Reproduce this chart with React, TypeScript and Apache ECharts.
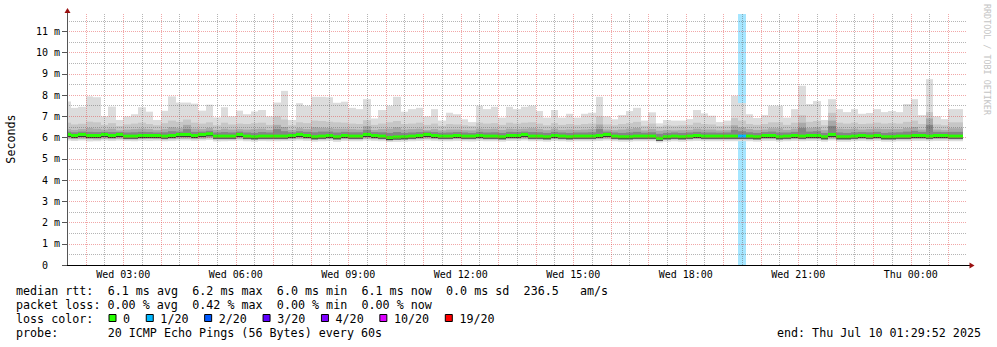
import React, { useEffect, useRef } from "react";
import * as echarts from "echarts";

const FONT = "'DejaVu Sans Mono', monospace";

// time is expressed in hours since Wed 00:00
const BAR_START_HOUR = 1.4;
const BAR_STEP_HOURS = 0.2;
const X_MIN = 1.5;
const X_MAX = 25.5;
const Y_MAX = 11.82;

const xTickHours = [3, 6, 9, 12, 15, 18, 21, 24];
const xTickLabels = ["Wed 03:00", "Wed 06:00", "Wed 09:00", "Wed 12:00", "Wed 15:00", "Wed 18:00", "Wed 21:00", "Thu 00:00"];
const yTickValues = [0, 1, 2, 3, 4, 5, 6, 7, 8, 9, 10, 11];
const yTickLabels = ["0\u00a0\u00a0", "1 m", "2 m", "3 m", "4 m", "5 m", "6 m", "7 m", "8 m", "9 m", "10 m", "11 m"];

// per 12-minute bar, ms
const maxV = [
  7.70, 7.40, 7.45, 7.94, 7.90, 7.00, 7.46, 6.83, 7.00, 7.10,
  7.43, 7.22, 6.83, 7.26, 7.94, 7.65, 7.65, 7.60, 7.27, 7.55,
  6.95, 7.43, 7.00, 7.27, 7.10, 7.23, 7.30, 7.00, 7.65, 8.20,
  6.83, 7.62, 7.50, 7.92, 7.92, 7.90, 7.64, 7.69, 7.40, 7.34,
  7.81, 6.90, 7.30, 7.50, 7.92, 7.22, 7.34, 7.40, 7.00, 7.34,
  6.80, 7.17, 7.10, 6.86, 6.73, 7.50, 7.34, 7.45, 6.94, 7.45,
  7.34, 7.45, 7.50, 7.25, 6.94, 7.30, 6.94, 7.12, 6.94, 7.12,
  7.17, 7.92, 7.00, 6.86, 7.06, 7.25, 7.40, 6.80, 7.19, 6.67,
  6.83, 6.80, 6.80, 6.87, 7.30, 7.14, 7.03, 6.73, 6.80, 7.97,
  7.63, 7.10, 6.92, 7.06, 7.50, 7.50, 6.94, 7.34, 8.44, 7.58,
  7.72, 6.83, 7.81, 7.34, 7.20, 7.34, 7.12, 7.16, 7.34, 7.20,
  7.25, 7.20, 7.58, 7.81, 7.06, 8.75, 7.00, 6.87, 7.34, 7.34,
];
const p90V = [
  6.70, 6.62, 6.65, 6.75, 6.72, 6.60, 6.68, 6.55, 6.62, 6.66,
  6.70, 6.64, 6.58, 6.68, 6.80, 6.74, 6.85, 6.70, 6.66, 6.72,
  6.58, 6.70, 6.62, 6.66, 6.64, 6.68, 6.70, 6.60, 7.00, 6.85,
  6.58, 6.72, 6.68, 6.80, 6.78, 6.75, 6.72, 6.70, 6.66, 6.64,
  6.82, 6.60, 6.66, 6.72, 6.78, 6.64, 6.66, 6.70, 6.60, 6.66,
  6.56, 6.64, 6.62, 6.58, 6.55, 6.70, 6.66, 6.68, 6.60, 6.70,
  6.66, 6.70, 6.72, 6.66, 6.58, 6.68, 6.60, 6.64, 6.60, 6.64,
  6.66, 7.00, 6.62, 6.58, 6.64, 6.68, 6.74, 6.56, 6.66, 6.52,
  6.58, 6.56, 6.58, 6.60, 6.70, 6.64, 6.62, 6.55, 6.58, 6.92,
  6.80, 6.64, 6.60, 6.64, 6.72, 6.72, 6.60, 6.70, 7.05, 6.74,
  6.78, 6.58, 7.17, 6.70, 6.66, 6.70, 6.64, 6.66, 6.70, 6.66,
  6.68, 6.66, 6.74, 6.80, 6.64, 7.20, 6.62, 6.58, 6.72, 6.72,
];
const p75V = [
  6.40, 6.36, 6.40, 6.45, 6.42, 6.38, 6.42, 6.34, 6.38, 6.40,
  6.42, 6.40, 6.35, 6.40, 6.48, 6.44, 6.60, 6.42, 6.40, 6.45,
  6.36, 6.42, 6.38, 6.40, 6.38, 6.40, 6.42, 6.36, 6.60, 6.50,
  6.36, 6.44, 6.40, 6.48, 6.46, 6.45, 6.42, 6.42, 6.40, 6.38,
  6.55, 6.36, 6.40, 6.42, 6.48, 6.38, 6.40, 6.42, 6.36, 6.40,
  6.34, 6.38, 6.38, 6.35, 6.34, 6.42, 6.40, 6.42, 6.36, 6.42,
  6.40, 6.42, 6.44, 6.40, 6.35, 6.42, 6.36, 6.38, 6.36, 6.38,
  6.40, 6.62, 6.38, 6.35, 6.38, 6.42, 6.45, 6.34, 6.40, 6.32,
  6.35, 6.34, 6.35, 6.36, 6.42, 6.38, 6.38, 6.34, 6.35, 6.58,
  6.48, 6.40, 6.36, 6.38, 6.44, 6.44, 6.36, 6.42, 6.70, 6.45,
  6.48, 6.35, 6.80, 6.42, 6.40, 6.42, 6.38, 6.40, 6.42, 6.40,
  6.40, 6.40, 6.45, 6.50, 6.38, 6.90, 6.38, 6.35, 6.44, 6.44,
];
const p60V = [
  6.28, 6.25, 6.28, 6.27, 6.26, 6.27, 6.26, 6.26, 6.24, 6.25,
  6.27, 6.26, 6.24, 6.25, 6.30, 6.28, 6.40, 6.27, 6.28, 6.32,
  6.24, 6.26, 6.24, 6.28, 6.24, 6.22, 6.26, 6.24, 6.40, 6.30,
  6.25, 6.30, 6.27, 6.25, 6.28, 6.28, 6.24, 6.27, 6.25, 6.25,
  6.36, 6.26, 6.25, 6.22, 6.26, 6.22, 6.24, 6.26, 6.28, 6.26,
  6.23, 6.24, 6.26, 6.24, 6.22, 6.27, 6.24, 6.25, 6.22, 6.27,
  6.26, 6.28, 6.26, 6.25, 6.22, 6.27, 6.24, 6.22, 6.24, 6.24,
  6.25, 6.40, 6.28, 6.24, 6.22, 6.24, 6.27, 6.23, 6.25, 6.18,
  6.22, 6.24, 6.22, 6.24, 6.27, 6.24, 6.24, 6.23, 6.24, 6.36,
  6.30, 6.25, 6.22, 6.26, 6.28, 6.24, 6.24, 6.27, 6.45, 6.28,
  6.30, 6.22, 6.55, 6.24, 6.22, 6.25, 6.26, 6.25, 6.27, 6.22,
  6.24, 6.25, 6.28, 6.32, 6.27, 6.60, 6.27, 6.26, 6.27, 6.27,
];
const medianV = [
  6.15, 6.10, 6.15, 6.10, 6.10, 6.15, 6.10, 6.15, 6.07, 6.07,
  6.10, 6.10, 6.10, 6.07, 6.10, 6.15, 6.15, 6.10, 6.15, 6.18,
  6.07, 6.07, 6.07, 6.15, 6.07, 6.04, 6.07, 6.07, 6.07, 6.07,
  6.10, 6.15, 6.10, 6.04, 6.07, 6.10, 6.04, 6.10, 6.07, 6.07,
  6.15, 6.10, 6.07, 6.00, 6.03, 6.04, 6.07, 6.10, 6.15, 6.10,
  6.07, 6.07, 6.10, 6.07, 6.07, 6.10, 6.07, 6.07, 6.04, 6.10,
  6.10, 6.15, 6.07, 6.07, 6.04, 6.10, 6.07, 6.04, 6.07, 6.07,
  6.07, 6.10, 6.15, 6.07, 6.04, 6.04, 6.07, 6.07, 6.07, 5.97,
  6.04, 6.07, 6.04, 6.07, 6.10, 6.07, 6.07, 6.07, 6.07, 6.07,
  6.07, 6.07, 6.04, 6.10, 6.10, 6.04, 6.07, 6.10, 6.07, 6.10,
  6.10, 6.04, 6.15, 6.04, 6.04, 6.07, 6.10, 6.07, 6.10, 6.04,
  6.04, 6.07, 6.07, 6.10, 6.10, 6.07, 6.10, 6.10, 6.07, 6.07,
];
const p10V = [
  5.95, 5.93, 5.95, 5.93, 5.92, 5.95, 5.93, 5.95, 5.92, 5.92,
  5.93, 5.94, 5.93, 5.92, 5.93, 5.95, 5.95, 5.93, 5.95, 5.97,
  5.92, 5.92, 5.92, 5.95, 5.92, 5.90, 5.92, 5.92, 5.92, 5.92,
  5.93, 5.95, 5.93, 5.90, 5.92, 5.93, 5.90, 5.93, 5.92, 5.92,
  5.95, 5.93, 5.92, 5.87, 5.89, 5.90, 5.92, 5.93, 5.95, 5.93,
  5.92, 5.92, 5.93, 5.92, 5.92, 5.93, 5.92, 5.92, 5.90, 5.93,
  5.93, 5.95, 5.92, 5.92, 5.90, 5.93, 5.92, 5.90, 5.92, 5.92,
  5.92, 5.93, 5.95, 5.92, 5.90, 5.90, 5.92, 5.92, 5.92, 5.85,
  5.90, 5.92, 5.90, 5.92, 5.93, 5.92, 5.92, 5.92, 5.92, 5.92,
  5.92, 5.92, 5.90, 5.93, 5.93, 5.90, 5.92, 5.93, 5.92, 5.93,
  5.93, 5.90, 5.95, 5.90, 5.90, 5.92, 5.93, 5.92, 5.93, 5.90,
  5.90, 5.92, 5.92, 5.93, 5.93, 5.92, 5.93, 5.93, 5.92, 5.92,
];
const minV = [
  5.86, 5.84, 5.86, 5.82, 5.83, 5.86, 5.84, 5.86, 5.84, 5.83,
  5.85, 5.84, 5.85, 5.83, 5.84, 5.86, 5.86, 5.84, 5.86, 5.88,
  5.82, 5.83, 5.84, 5.86, 5.83, 5.81, 5.84, 5.83, 5.83, 5.84,
  5.84, 5.86, 5.84, 5.81, 5.83, 5.84, 5.80, 5.84, 5.83, 5.83,
  5.86, 5.84, 5.83, 5.79, 5.80, 5.81, 5.83, 5.84, 5.86, 5.84,
  5.83, 5.83, 5.84, 5.83, 5.82, 5.84, 5.83, 5.83, 5.81, 5.84,
  5.84, 5.86, 5.83, 5.83, 5.81, 5.84, 5.83, 5.81, 5.83, 5.83,
  5.83, 5.84, 5.86, 5.83, 5.81, 5.81, 5.83, 5.83, 5.83, 5.77,
  5.81, 5.83, 5.81, 5.83, 5.84, 5.83, 5.83, 5.83, 5.83, 5.83,
  5.83, 5.83, 5.81, 5.84, 5.84, 5.81, 5.83, 5.84, 5.83, 5.84,
  5.84, 5.81, 5.86, 5.81, 5.81, 5.83, 5.84, 5.83, 5.84, 5.81,
  5.81, 5.83, 5.83, 5.84, 5.84, 5.83, 5.84, 5.84, 5.83, 5.83,
];
// lost pings (of 20) per bar
const lossV = [
  0, 0, 0, 0, 0, 0, 0, 0, 0, 0,
  0, 0, 0, 0, 0, 0, 0, 0, 0, 0,
  0, 0, 0, 0, 0, 0, 0, 0, 0, 0,
  0, 0, 0, 0, 0, 0, 0, 0, 0, 0,
  0, 0, 0, 0, 0, 0, 0, 0, 0, 0,
  0, 0, 0, 0, 0, 0, 0, 0, 0, 0,
  0, 0, 0, 0, 0, 0, 0, 0, 0, 0,
  0, 0, 0, 0, 0, 0, 0, 0, 0, 0,
  0, 0, 0, 0, 0, 0, 0, 0, 0, 0,
  1, 0, 0, 0, 0, 0, 0, 0, 0, 0,
  0, 0, 0, 0, 0, 0, 0, 0, 0, 0,
  0, 0, 0, 0, 0, 0, 0, 0, 0, 0,
];

const lossSteps = [0, 1, 2, 3, 4, 10, 19];
const lossLabels = ["0", "1/20", "2/20", "3/20", "4/20", "10/20", "19/20"];
const lossColors = ["#26ff00", "#00b8ff", "#0059ff", "#5e00ff", "#7e00ff", "#dd00ff", "#ff0000"];
const lossBgColors = [
  "rgba(38,255,0,0)", "rgba(0,184,255,0.35)", "rgba(0,89,255,0.35)", "rgba(94,0,255,0.35)",
  "rgba(126,0,255,0.35)", "rgba(221,0,255,0.35)", "rgba(255,0,0,0.35)",
];

const statLines = [
  "median rtt:  6.1 ms avg  6.2 ms max  6.0 ms min  6.1 ms now  0.0 ms sd  236.5   am/s",
  "packet loss: 0.00 % avg  0.42 % max  0.00 % min  0.00 % now",
];
const lossTitle = "loss color:";
const probeLine = "probe:       20 ICMP Echo Pings (56 Bytes) every 60s";
const endLine = "end: Thu Jul 10 01:29:52 2025";
const yAxisTitle = "Seconds";
const watermark = "RRDTOOL / TOBI OETIKER";

const GRID_MAJOR = "rgba(225,60,60,0.45)";
const GRID_MINOR = "rgba(90,90,90,0.45)";
const CHAR_W = 7.05;
const TEXT_X = 16;
const LEGEND_FS = 11.7;

function lossIndex(count: number) {
  let idx = 0;
  for (let i = 0; i < lossSteps.length; i++) if (count >= lossSteps[i]) idx = i;
  return idx;
}

function lineTexts(line: string, y: number) {
  const out: any[] = [];
  const re = /\S+(?: \S+)*/g;
  let m: RegExpExecArray | null;
  while ((m = re.exec(line))) {
    out.push({
      type: "text",
      x: TEXT_X + m.index * CHAR_W,
      y,
      style: { text: m[0], fontFamily: FONT, fontSize: LEGEND_FS, fill: "#000", verticalAlign: "middle", align: "left" },
      silent: true,
    });
  }
  return out;
}

export default function App() {
  const ref = useRef<HTMLDivElement>(null);

  useEffect(() => {
    if (!ref.current) return;
    const chart = echarts.init(ref.current, null, { renderer: "svg" });

    const data = maxV.map((mx, i) => [
      BAR_START_HOUR + BAR_STEP_HOURS * i,
      BAR_START_HOUR + BAR_STEP_HOURS * (i + 1),
      minV[i], p10V[i], medianV[i], p60V[i], p75V[i], p90V[i], mx, lossV[i],
    ]);

    const renderItem = (params: any, api: any) => {
      const t0 = api.value(0);
      const t1 = api.value(1);
      const mn = api.value(2), p10 = api.value(3), med = api.value(4), p60 = api.value(5);
      const p75 = api.value(6), p90 = api.value(7), mx = api.value(8), loss = api.value(9);
      const cs = params.coordSys;
      const clip = { x: cs.x, y: cs.y, width: cs.width, height: cs.height };
      const x0 = Math.round(api.coord([t0, 0])[0]);
      const x1 = Math.round(api.coord([t1, 0])[0]);
      const yOf = (v: number) => api.coord([t0, v])[1];
      const mk = (lo: number, hi: number, fill: string, fixedH?: number) => {
        const yTop = yOf(hi);
        const h = fixedH !== undefined ? fixedH : yOf(lo) - yOf(hi);
        const shape = echarts.graphic.clipRectByRect({ x: x0, y: yTop, width: x1 - x0, height: h }, clip);
        return shape ? { type: "rect", shape, style: { fill } } : null;
      };
      const li = lossIndex(loss);
      const children: any[] = [];
      if (loss > 0) children.push(mk(0, Y_MAX, lossBgColors[li]));
      children.push(mk(mn, mx, "#dcdcdc"));
      children.push(mk(p10, p90, "#c6c6c6"));
      children.push(mk(p10, p75, "#a9a9a9"));
      children.push(mk(med, p60, "#858585"));
      children.push(mk(med - 0.07, med - 0.07, "#2e2e2e", 1));
      children.push(mk(med - 0.07, med + 0.07, lossColors[li]));
      return { type: "group", children: children.filter(Boolean) };
    };

    const graphics: any[] = [];
    graphics.push({
      type: "text", x: 11, y: 139, rotation: Math.PI / 2,
      style: { text: yAxisTitle, fontFamily: FONT, fontSize: LEGEND_FS, fill: "#000", align: "center", verticalAlign: "middle" },
      silent: true,
    });
    graphics.push({
      type: "text", x: 987, y: 4, rotation: -Math.PI / 2,
      style: { text: watermark, fontFamily: FONT, fontSize: 8.4, fill: "#c4c4c4", align: "left", verticalAlign: "middle" },
      silent: true,
    });
    // axis extensions and arrows
    graphics.push({ type: "line", shape: { x1: 67.5, y1: 14, x2: 67.5, y2: 11 }, style: { stroke: "#555", lineWidth: 1 }, silent: true });
    graphics.push({ type: "polygon", shape: { points: [[64.5, 13], [70.5, 13], [67.5, 8]] }, style: { fill: "#9a1010" }, silent: true });
    graphics.push({ type: "line", shape: { x1: 967, y1: 265.5, x2: 970, y2: 265.5 }, style: { stroke: "#000", lineWidth: 1 }, silent: true });
    graphics.push({ type: "polygon", shape: { points: [[969.5, 262.5], [969.5, 268.5], [974.5, 265.5]] }, style: { fill: "#9a1010" }, silent: true });

    graphics.push(...lineTexts(statLines[0], 291));
    graphics.push(...lineTexts(statLines[1], 305));
    graphics.push(...lineTexts(lossTitle, 319));
    graphics.push(...lineTexts(probeLine, 333));
    graphics.push({
      type: "text", x: 981, y: 333,
      style: { text: endLine, fontFamily: FONT, fontSize: LEGEND_FS, fill: "#000", align: "right", verticalAlign: "middle" },
      silent: true,
    });
    let pos = 108.5;
    lossLabels.forEach((lab, i) => {
      graphics.push({
        type: "rect", shape: { x: pos + 0.5, y: 314.5, width: 7, height: 7 },
        style: { fill: lossColors[i], stroke: "#000", lineWidth: 1 }, silent: true,
      });
      graphics.push({
        type: "text", x: pos + 14.6, y: 319,
        style: { text: lab, fontFamily: FONT, fontSize: LEGEND_FS, fill: "#000", align: "left", verticalAlign: "middle" },
        silent: true,
      });
      pos += 30.2 + lab.length * CHAR_W;
    });

    const option: any = {
      animation: false,
      backgroundColor: "#ffffff",
      grid: { left: 67, right: 30, top: 14, bottom: 82, containLabel: false },
      xAxis: {
        type: "value", min: X_MIN, max: X_MAX, interval: 0.5, z: 3,
        axisLine: { show: true, onZero: false, lineStyle: { color: "#000", width: 1 } },
        axisTick: { show: false },
        axisLabel: {
          show: true, margin: 4,
          fontFamily: FONT, fontSize: 10, color: "#000",
          formatter: (v: number) => {
            const i = xTickHours.findIndex((h) => Math.abs(h - v) < 0.01);
            return i >= 0 ? xTickLabels[i] : "";
          },
        },
        splitLine: {
          show: true, showMinLine: true, showMaxLine: false,
          lineStyle: { color: [GRID_MINOR, GRID_MAJOR], type: [1, 1], width: 1 },
        },
      },
      yAxis: [
        {
          type: "value", min: 0, max: Y_MAX, interval: 0.5, z: 3,
          axisLine: { show: true, lineStyle: { color: "#555", width: 1 } },
          axisTick: { show: false },
          axisLabel: { show: false },
          splitLine: {
            show: true, showMinLine: true, showMaxLine: false,
            lineStyle: { color: [GRID_MAJOR, GRID_MINOR], type: [1, 1], width: 1 },
          },
        },
        {
          type: "value", min: 0, max: Y_MAX, interval: 1, z: 3, position: "left", offset: 0,
          axisLine: { show: false },
          axisTick: { show: true, customValues: yTickValues, length: 5, lineStyle: { color: "#555" } },
          axisLabel: {
            show: true, customValues: yTickValues, margin: 7,
            fontFamily: FONT, fontSize: 10, color: "#000",
            formatter: (v: number) => {
              const i = yTickValues.findIndex((t) => Math.abs(t - v) < 0.01);
              return i >= 0 ? yTickLabels[i] : "";
            },
          },
          splitLine: { show: false },
        },
      ],
      series: [
        {
          type: "custom",
          renderItem,
          data,
          z: 2,
          silent: true,
          xAxisIndex: 0,
          yAxisIndex: 0,
          encode: { x: [0, 1], y: [2, 8] },
        },
      ],
      graphic: graphics,
    };

    chart.setOption(option);
    return () => chart.dispose();
  }, []);

  return <div ref={ref} style={{ position: "fixed", left: 0, top: 0, width: 997, height: 347 }} />;
}
